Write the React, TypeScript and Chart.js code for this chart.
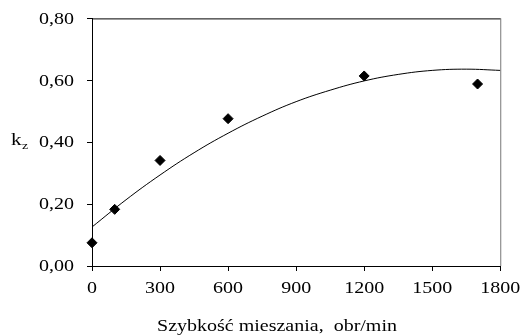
import React, { useEffect, useRef } from "react";
import { Chart, registerables } from "chart.js";
Chart.register(...registerables);

const speedPoints = [0, 100, 300, 600, 1200, 1700];
const kzValues = [0.075, 0.183, 0.341, 0.476, 0.614, 0.588];
const trendX = [0, 150, 300, 450, 600, 750, 900, 1050, 1200, 1350, 1500, 1650, 1800];
const trendY = [0.126, 0.214, 0.294, 0.366, 0.429, 0.484, 0.531, 0.568, 0.598, 0.619, 0.632, 0.636, 0.632];
const xTicks = [0, 300, 600, 900, 1200, 1500, 1800];
const yTicks = [0, 0.2, 0.4, 0.6, 0.8];
const xTitle = "Szybkość mieszania,  obr/min";
const FONT = "'Liberation Serif', 'Times New Roman', serif";
const STRETCH = 1.25;

function stretchedText(ctx: any, text: string, x: number, y: number, align: "left" | "center" | "right") {
  const w = ctx.measureText(text).width * STRETCH;
  let left = x;
  if (align === "center") left = x - w / 2;
  if (align === "right") left = x - w;
  ctx.save();
  ctx.translate(left, y);
  ctx.scale(STRETCH, 1);
  ctx.textAlign = "left";
  ctx.fillText(text, 0, 0);
  ctx.restore();
}

const framePlugin = {
  id: "frame",
  afterDraw(chart: any) {
    const { ctx, chartArea, scales } = chart;
    ctx.save();
    ctx.strokeStyle = "#000";
    ctx.lineWidth = 1;
    ctx.beginPath();
    ctx.moveTo(chartArea.left, chartArea.top + 0.5);
    ctx.lineTo(chartArea.right + 0.5, chartArea.top + 0.5);
    ctx.stroke();
    ctx.strokeStyle = "#777";
    ctx.beginPath();
    ctx.moveTo(chartArea.right + 0.5, chartArea.top);
    ctx.lineTo(chartArea.right + 0.5, chartArea.bottom);
    ctx.stroke();
    ctx.fillStyle = "#000";
    ctx.textBaseline = "middle";
    ctx.font = "16px " + FONT;
    yTicks.forEach((v) => {
      const py = scales.y.getPixelForValue(v);
      stretchedText(ctx, v.toFixed(2).replace(".", ","), 74, py + 1, "right");
    });
    xTicks.forEach((v) => {
      const px = scales.x.getPixelForValue(v);
      stretchedText(ctx, String(v), px, 289, "center");
    });
    ctx.font = "16px " + FONT;
    stretchedText(ctx, xTitle, 277, 327, "center");
    ctx.font = "17px " + FONT;
    stretchedText(ctx, "k", 11, 141, "left");
    ctx.font = "11px " + FONT;
    stretchedText(ctx, "z", 22, 146, "left");
    ctx.restore();
  },
};

export default function App() {
  const ref = useRef<HTMLCanvasElement>(null);
  useEffect(() => {
    if (!ref.current) return;
    const chart = new Chart(ref.current, {
      type: "scatter",
      data: {
        datasets: [
          {
            type: "line",
            data: trendX.map((x, i) => ({ x, y: trendY[i] })),
            borderColor: "#000",
            borderWidth: 1,
            pointRadius: 0,
            tension: 0.4,
            fill: false,
            clip: false,
            order: 2,
          } as any,
          {
            data: speedPoints.map((x, i) => ({ x, y: kzValues[i] })),
            backgroundColor: "#000",
            borderColor: "#000",
            pointStyle: "rectRot",
            pointRadius: 5,
            clip: false,
            order: 1,
          } as any,
        ],
      },
      options: {
        animation: false,
        responsive: false,
        maintainAspectRatio: false,
        layout: { padding: { left: 0, right: 21, top: 17, bottom: 0 } },
        plugins: { legend: { display: false }, tooltip: { enabled: false } },
        scales: {
          x: {
            type: "linear",
            min: 0,
            max: 1800,
            afterFit: (s: any) => { s.height = 69; },
            ticks: { stepSize: 300, color: "rgba(0,0,0,0)", padding: 8, font: { family: FONT, size: 14 } },
            grid: { drawOnChartArea: false, drawTicks: true, tickLength: 5, color: "#000" },
            border: { color: "#000", width: 1 },
          },
          y: {
            min: 0,
            max: 0.8,
            afterFit: (s: any) => { s.width = 92; },
            ticks: { stepSize: 0.2, color: "rgba(0,0,0,0)", padding: 10, font: { family: FONT, size: 14 } },
            grid: { drawOnChartArea: false, drawTicks: true, tickLength: 5, color: "#000" },
            border: { color: "#000", width: 1 },
          },
        },
      },
      plugins: [framePlugin],
    });
    return () => chart.destroy();
  }, []);
  return (
    <div style={{ position: "absolute", left: 0, top: 0, width: 524, height: 335, background: "#fff" }}>
      <canvas ref={ref} width={524} height={335} />
    </div>
  );
}
